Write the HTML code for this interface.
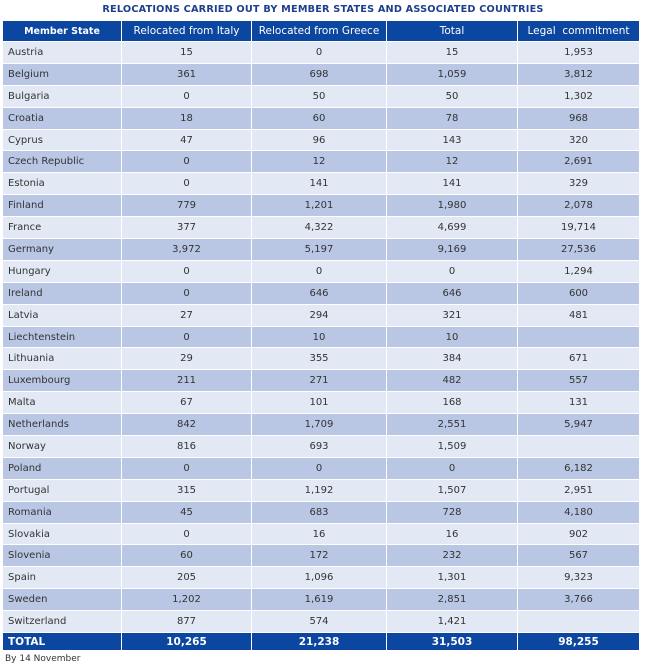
<!DOCTYPE html>
<html><head><style>
body{margin:0;background:#fff;width:646px;height:668px;overflow:hidden;font-family:"DejaVu Sans","Liberation Sans",sans-serif;}
.title{position:absolute;top:4px;left:0;width:646px;text-align:center;font-size:9.7px;font-weight:bold;color:#1d3f8e;letter-spacing:0.2px;}
table{position:absolute;top:20px;left:2px;width:637px;border-collapse:collapse;table-layout:fixed;font-size:10px;color:#333;}
td,th{border:1px solid #fff;padding:0 5px;height:20.9px;white-space:nowrap;overflow:hidden;}
th{background:#0b46a0;color:#fff;font-weight:normal;height:20px;font-size:10.5px;}
th.b{font-weight:bold;font-size:9.5px}
td{text-align:center}
td:first-child{text-align:left}
tr:nth-child(even) td{background:#e2e8f4}
tr:nth-child(odd) td{background:#b9c7e5}
tr.tot td{background:#0b46a0;color:#fff;font-weight:bold;height:17px;font-size:10.5px}
.foot{position:absolute;top:654px;left:5px;font-size:9px;color:#333}
</style></head><body>
<div class="title">RELOCATIONS CARRIED OUT BY MEMBER STATES AND ASSOCIATED COUNTRIES</div>
<table>
<colgroup><col style="width:119px"><col style="width:130px"><col style="width:135px"><col style="width:131px"><col style="width:122px"></colgroup>
<tr><th class="b">Member State</th><th>Relocated from Italy</th><th>Relocated from Greece</th><th>Total</th><th>Legal &nbsp;commitment</th></tr>
<tr><td>Austria</td><td>15</td><td>0</td><td>15</td><td>1,953</td></tr>
<tr><td>Belgium</td><td>361</td><td>698</td><td>1,059</td><td>3,812</td></tr>
<tr><td>Bulgaria</td><td>0</td><td>50</td><td>50</td><td>1,302</td></tr>
<tr><td>Croatia</td><td>18</td><td>60</td><td>78</td><td>968</td></tr>
<tr><td>Cyprus</td><td>47</td><td>96</td><td>143</td><td>320</td></tr>
<tr><td>Czech Republic</td><td>0</td><td>12</td><td>12</td><td>2,691</td></tr>
<tr><td>Estonia</td><td>0</td><td>141</td><td>141</td><td>329</td></tr>
<tr><td>Finland</td><td>779</td><td>1,201</td><td>1,980</td><td>2,078</td></tr>
<tr><td>France</td><td>377</td><td>4,322</td><td>4,699</td><td>19,714</td></tr>
<tr><td>Germany</td><td>3,972</td><td>5,197</td><td>9,169</td><td>27,536</td></tr>
<tr><td>Hungary</td><td>0</td><td>0</td><td>0</td><td>1,294</td></tr>
<tr><td>Ireland</td><td>0</td><td>646</td><td>646</td><td>600</td></tr>
<tr><td>Latvia</td><td>27</td><td>294</td><td>321</td><td>481</td></tr>
<tr><td>Liechtenstein</td><td>0</td><td>10</td><td>10</td><td></td></tr>
<tr><td>Lithuania</td><td>29</td><td>355</td><td>384</td><td>671</td></tr>
<tr><td>Luxembourg</td><td>211</td><td>271</td><td>482</td><td>557</td></tr>
<tr><td>Malta</td><td>67</td><td>101</td><td>168</td><td>131</td></tr>
<tr><td>Netherlands</td><td>842</td><td>1,709</td><td>2,551</td><td>5,947</td></tr>
<tr><td>Norway</td><td>816</td><td>693</td><td>1,509</td><td></td></tr>
<tr><td>Poland</td><td>0</td><td>0</td><td>0</td><td>6,182</td></tr>
<tr><td>Portugal</td><td>315</td><td>1,192</td><td>1,507</td><td>2,951</td></tr>
<tr><td>Romania</td><td>45</td><td>683</td><td>728</td><td>4,180</td></tr>
<tr><td>Slovakia</td><td>0</td><td>16</td><td>16</td><td>902</td></tr>
<tr><td>Slovenia</td><td>60</td><td>172</td><td>232</td><td>567</td></tr>
<tr><td>Spain</td><td>205</td><td>1,096</td><td>1,301</td><td>9,323</td></tr>
<tr><td>Sweden</td><td>1,202</td><td>1,619</td><td>2,851</td><td>3,766</td></tr>
<tr><td>Switzerland</td><td>877</td><td>574</td><td>1,421</td><td></td></tr>
<tr class="tot"><td>TOTAL</td><td>10,265</td><td>21,238</td><td>31,503</td><td>98,255</td></tr>
</table>
<div class="foot">By 14 November</div>
</body></html>
